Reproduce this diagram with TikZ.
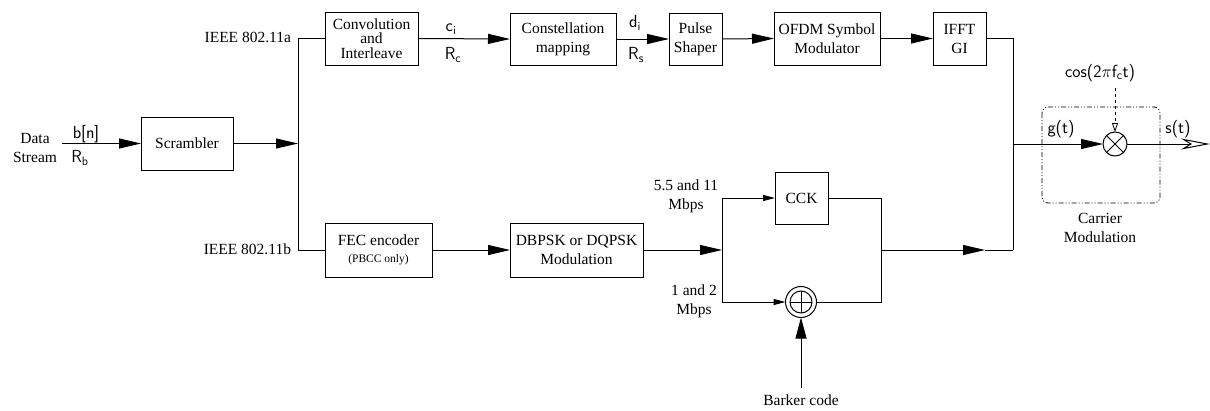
\documentclass[tikz,border=0pt]{standalone}
\usepackage{amsmath}
\usepackage{fontspec}
\setmainfont{Liberation Serif}
\usetikzlibrary{arrows.meta}
\newcommand{\sfsub}[1]{$_{\text{\sffamily #1}}$}
\begin{document}
\begin{tikzpicture}[x=1pt,y=-1pt,line width=1pt,
  every node/.style={inner sep=0pt,outer sep=0pt},
  txt/.style={font=\fontsize{15.5}{19}\selectfont,align=center},
  blk/.style={draw,txt,inner sep=0pt},
  lbl/.style={font=\sffamily\fontsize{17.5}{19}\selectfont},
  big/.style={-{Triangle[length=22pt,width=10pt]}},
  small/.style={-{Triangle[length=12pt,width=6pt]}},
  carrier/.style={draw,rounded corners=6pt,line width=0.8pt,dash pattern=on 5pt off 2pt on 1pt off 2pt on 1pt off 2pt}]
\useasboundingbox (0,0) rectangle (1210,410);
% blocks
\node[blk,minimum width=92,minimum height=53] (scr) at (187,143.5) {Scrambler};
\node[blk,minimum width=93,minimum height=53,font=\fontsize{15.5}{14.5}\selectfont] (conv) at (371.5,38.5) {Convolution\\and\\Interleave};
\node[blk,minimum width=106,minimum height=52] (const) at (563,39) {Constellation\\mapping};
\node[blk,minimum width=53,minimum height=52] (pulse) at (695.5,39) {Pulse\\Shaper};
\node[blk,minimum width=106,minimum height=53] (ofdm) at (827,38.5) {OFDM Symbol\\Modulator};
\node[blk,minimum width=53,minimum height=53] (ifft) at (959.5,38.5) {IFFT\\GI};
\node[blk,minimum width=107,minimum height=54] (fec) at (378.5,250) {FEC encoder\\[-2pt]{\fontsize{11.5}{13}\selectfont (PBCC only)}};
\node[blk,minimum width=133,minimum height=54] (dbpsk) at (576.5,250) {DBPSK or DQPSK\\Modulation};
\node[blk,minimum width=53,minimum height=52] (cck) at (801.5,198) {CCK};
% multiplier
\node[draw,circle,minimum size=24] (mult) at (1115,144) {};
\draw (mult.45) -- (mult.225) (mult.135) -- (mult.315);
% xor
\node[draw,circle,minimum size=31] (xor) at (801,302) {};
\node[draw,circle,minimum size=22] (xori) at (801,302) {};
\draw (xori.north) -- (xori.south) (xori.west) -- (xori.east);
% carrier box
\draw[carrier] (1042,107) rectangle (1160,203);
% coordinates
\coordinate (ds) at (62,143.5);
\coordinate (busm) at (298,143.5);
\coordinate (bust) at (298,38.5);
\coordinate (busb) at (298,250);
\coordinate (jt) at (722,198);
\coordinate (jm) at (722,250);
\coordinate (jb) at (722,302);
\coordinate (rt) at (881,198);
\coordinate (rm) at (881,250);
\coordinate (rb) at (881,302);
\coordinate (ah) at (985,250);
\coordinate (ot) at (1013,38.5);
\coordinate (om) at (1013,144);
\coordinate (ob) at (1013,250);
\coordinate (out) at (1210,144);
\coordinate (bark) at (801,388);
\coordinate (cosc) at (1115,88);
% connectors
\draw[big] (ds) -- (scr.west);
\draw[big] (scr.east) -- (busm);
\draw (bust) -- (busb);
\draw (bust) -- (conv.west);
\draw (busb) -- (fec.west);
\draw[big] (conv.east) -- (const.west);
\draw[big] (const.east) -- (pulse.west);
\draw[big] (pulse.east) -- (ofdm.west);
\draw[big] (ofdm.east) -- (ifft.west);
\draw (ifft.east) -- (ot) -- (ob);
\draw[big] (om) -- (mult.west);
\draw[-{Stealth[open,length=29pt,width=11pt,inset=9pt]}] (mult.east) -- (out);
\draw[big] (fec.east) -- (dbpsk.west);
\draw[big] (dbpsk.east) -- (jm);
\draw (jt) -- (jb);
\draw[small] (jt) -- (cck.west);
\draw[small] (jb) -- (xor.west);
\draw (cck.east) -- (rt) -- (rb) -- (xor.east);
\draw[big] (rm) -- (ah);
\draw (ah) -- (ob);
\draw[-{Triangle[length=21pt,width=11pt]}] (bark) -- (xor.south);
\draw[dashed,line width=0.8pt,-{Triangle[open,length=9pt,width=6pt]}] (cosc) -- (mult.north);
% labels
\node[txt] at (35,148) {Data\\Stream};
\node[lbl] at (86,134) {b[n]};
\node[lbl] at (80,158) {R\sfsub{b}};
\node[txt,anchor=east] at (291,37) {IEEE 802.11a};
\node[txt,anchor=east] at (291,249) {IEEE 802.11b};
\node[lbl] at (451,29) {c\sfsub{i}};
\node[lbl] at (453,55) {R\sfsub{c}};
\node[lbl] at (635,23) {d\sfsub{i}};
\node[lbl] at (636,55) {R\sfsub{s}};
\node[lbl] at (1061,129) {g(t)};
\node[lbl] at (1178,129) {s(t)};
\node[lbl] at (1100,73) {cos(2$\pi$f\sfsub{c}t)};
\node[txt] at (1100,228) {Carrier\\Modulation};
\node[txt] at (686,196) {5.5 and 11\\Mbps};
\node[txt] at (694,301) {1 and 2\\Mbps};
\node[txt] at (801,400) {Barker code};
\end{tikzpicture}
\end{document}
